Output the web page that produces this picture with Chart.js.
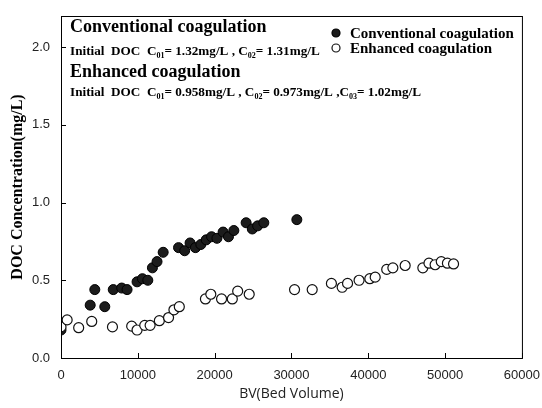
<!DOCTYPE html>
<html>
<head>
<meta charset="utf-8">
<script src="https://cdn.jsdelivr.net/npm/chart.js@4.4.1/dist/chart.umd.min.js"></script>
<style>
  html, body { margin: 0; padding: 0; background: #fff; }
  #wrap { width: 542px; height: 408px; }
</style>
</head>
<body>
<div id="wrap"><canvas id="chart" width="542" height="408"></canvas></div>
<script>
// Conventional coagulation (filled circles)
const convBV = [0, 3800, 4400, 5700, 6800, 7900, 8600, 9900, 10600, 11300, 11900, 12500, 13300,
    15300, 16100, 16800, 17500, 18200, 18900, 19600, 20300, 21100, 21800, 22500, 24100, 24900,
    25600, 26400, 30700];
const convDOC = [0.18, 0.34, 0.44, 0.33, 0.44, 0.45, 0.44, 0.49, 0.51, 0.50, 0.58, 0.62, 0.68,
    0.71, 0.69, 0.74, 0.71, 0.73, 0.76, 0.78, 0.77, 0.81, 0.78, 0.82, 0.87, 0.83,
    0.85, 0.87, 0.89];

// Enhanced coagulation (open circles)
const enhBV = [0, 800, 2300, 4000, 6700, 9200, 9900, 10900, 11600, 12800, 14000, 14700, 15400,
    18800, 19500, 20900, 22300, 23000, 24500, 30400, 32700, 35200, 36600, 37300, 38800, 40200,
    40900, 42400, 43200, 44800, 47100, 47900, 48700, 49500, 50300, 51100];
const enhDOC = [0.20, 0.245, 0.195, 0.235, 0.20, 0.205, 0.18, 0.21, 0.21, 0.24, 0.26, 0.31, 0.33,
    0.38, 0.41, 0.38, 0.38, 0.43, 0.41, 0.44, 0.44, 0.48, 0.455, 0.48, 0.50, 0.51,
    0.52, 0.57, 0.58, 0.595, 0.58, 0.61, 0.60, 0.62, 0.61, 0.605];

const seriesLabels = ['Conventional coagulation', 'Enhanced coagulation'];
const xTitle = 'BV(Bed Volume)';
const yTitle = 'DOC Concentration(mg/L)';

// annotation lines, '_' marks a subscript piece
const noteLines = [
    { big: true, parts: [['Conventional coagulation']] },
    { big: false, parts: [['Initial  DOC  C'], ['01', '_'], ['= 1.32mg/L , C'], ['02', '_'], ['= 1.31mg/L']] },
    { big: true, parts: [['Enhanced coagulation']] },
    { big: false, parts: [['Initial  DOC  C'], ['01', '_'], ['= 0.958mg/L , C'], ['02', '_'], ['= 0.973mg/L ,C'], ['03', '_'], ['= 1.02mg/L']] }
];

const toPoints = (xs, ys) => xs.map((x, i) => ({ x: x, y: ys[i] }));

const SERIF = '"Liberation Serif", "Times New Roman", serif';

// frame, inward ticks, notes and legend
const decorPlugin = {
    id: 'decor',
    afterDraw(chart) {
        const { ctx, chartArea: a, scales } = chart;
        ctx.save();
        ctx.strokeStyle = '#000';
        ctx.lineWidth = 1;
        ctx.strokeRect(a.left + 0.5, a.top + 0.5, a.right - a.left, a.bottom - a.top);

        // ticks pointing inside
        ctx.beginPath();
        scales.x.ticks.forEach((t) => {
            const px = Math.round(scales.x.getPixelForValue(t.value)) + 0.5;
            ctx.moveTo(px, a.bottom);
            ctx.lineTo(px, a.bottom - 5);
        });
        scales.y.ticks.forEach((t) => {
            const py = Math.round(scales.y.getPixelForValue(t.value)) + 0.5;
            ctx.moveTo(a.left, py);
            ctx.lineTo(a.left + 5, py);
        });
        ctx.stroke();

        // notes top-left
        ctx.fillStyle = '#000';
        ctx.textBaseline = 'alphabetic';
        const baselines = [32, 55, 77, 96];
        noteLines.forEach((line, i) => {
            let x = a.left + 9;
            const size = line.big ? 18 : 13.2;
            line.parts.forEach(([txt, kind]) => {
                const sub = kind === '_';
                ctx.font = 'bold ' + (sub ? 8 : size) + 'px ' + SERIF;
                ctx.fillText(txt, x, baselines[i] + (sub ? 3 : 0));
                x += ctx.measureText(txt).width;
            });
        });

        // legend
        const legendY = [33, 48];
        ctx.font = 'bold 15px ' + SERIF;
        ctx.textBaseline = 'middle';
        chart.data.datasets.forEach((ds, i) => {
            ctx.beginPath();
            ctx.arc(336, legendY[i], 4, 0, Math.PI * 2);
            ctx.fillStyle = ds.backgroundColor;
            ctx.fill();
            ctx.strokeStyle = ds.borderColor;
            ctx.lineWidth = 1.2;
            ctx.stroke();
            ctx.fillStyle = '#000';
            ctx.fillText(ds.label, 350, legendY[i] + 1);
        });
        ctx.restore();
    }
};

new Chart(document.getElementById('chart'), {
    type: 'scatter',
    data: {
        datasets: [
            {
                label: seriesLabels[0],
                data: toPoints(convBV, convDOC),
                backgroundColor: '#1c1c1c',
                borderColor: '#000',
                borderWidth: 1,
                pointRadius: 5,
                order: 2
            },
            {
                label: seriesLabels[1],
                data: toPoints(enhBV, enhDOC),
                backgroundColor: '#fff',
                borderColor: '#111',
                borderWidth: 1.2,
                pointRadius: 5,
                order: 1
            }
        ]
    },
    options: {
        responsive: false,
        animation: false,
        layout: { padding: { left: 0, top: 16, right: 20, bottom: 0 } },
        plugins: {
            legend: { display: false },
            tooltip: { enabled: false }
        },
        scales: {
            x: {
                type: 'linear',
                min: 0,
                max: 60000,
                grid: { display: false },
                border: { display: false },
                ticks: {
                    stepSize: 10000,
                    padding: 2,
                    color: '#222',
                    font: { family: '"Liberation Sans", Arial, sans-serif', size: 13 },
                    maxRotation: 0,
                    callback: (v) => String(v)
                },
                title: {
                    display: true,
                    text: xTitle,
                    color: '#222',
                    font: { family: '"Open Sans", sans-serif', size: 14 },
                    padding: { top: 0, bottom: 6 }
                },
                afterFit: (s) => { s.height = 50; }
            },
            y: {
                min: 0,
                max: 2.2,
                grid: { display: false },
                border: { display: false },
                ticks: {
                    stepSize: 0.5,
                    includeBounds: false,
                    padding: 3,
                    color: '#222',
                    font: { family: '"Liberation Sans", Arial, sans-serif', size: 13 },
                    callback: (v) => v.toFixed(1)
                },
                title: {
                    display: true,
                    text: yTitle,
                    color: '#000',
                    font: { family: SERIF, size: 16, weight: 'bold' },
                    padding: { top: 8, bottom: 0 }
                },
                afterFit: (s) => { s.width = 61; }
            }
        }
    },
    plugins: [decorPlugin]
});
</script>
</body>
</html>
